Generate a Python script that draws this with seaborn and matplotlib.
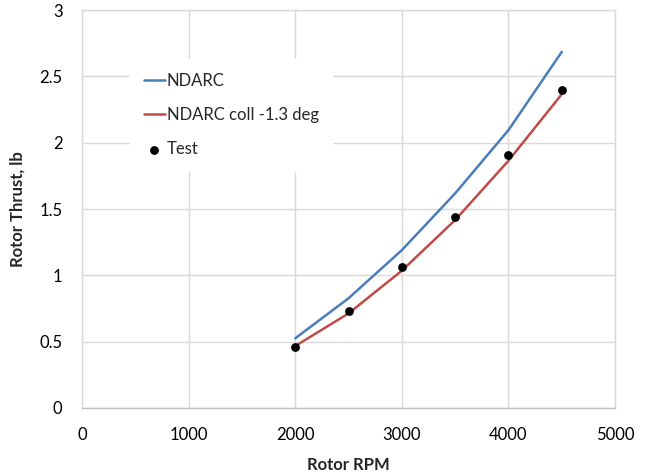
import matplotlib
matplotlib.use("Agg")
import matplotlib.pyplot as plt
import seaborn as sns
import pandas as pd

# Rotor thrust versus rotor speed: NDARC predictions and test points
rpm = [2000, 2500, 3000, 3500, 4000, 4500]
ndarc = [0.525, 0.827, 1.19, 1.618, 2.095, 2.685]
ndarc_coll = [0.467, 0.713, 1.035, 1.417, 1.864, 2.366]
test = [0.462, 0.731, 1.06, 1.44, 1.909, 2.40]

x_ticks = [0, 1000, 2000, 3000, 4000, 5000]
y_ticks = [0, 0.5, 1, 1.5, 2, 2.5, 3]
y_tick_labels = ["0", "0.5", "1", "1.5", "2", "2.5", "3"]

sns.set_theme(style="white")
plt.rcParams["font.family"] = ["Lato", "DejaVu Sans"]

df = pd.DataFrame({"rpm": rpm, "ndarc": ndarc, "coll": ndarc_coll, "test": test})

fig = plt.figure(figsize=(6.47, 4.76), dpi=100)
ax = fig.add_axes([0.1267, 0.1429, 0.824, 0.836])

sns.lineplot(data=df, x="rpm", y="ndarc", ax=ax, color="#4a7ebb", lw=1.8,
             label="NDARC")
sns.lineplot(data=df, x="rpm", y="coll", ax=ax, color="#be4b48", lw=1.8,
             label="NDARC coll -1.3 deg")
sns.scatterplot(data=df, x="rpm", y="test", ax=ax, color="black", s=40,
                edgecolor="black", linewidth=0, label="Test", zorder=5)

ax.set_xlim(0, 5000)
ax.set_ylim(0, 3)
ax.set_xticks(x_ticks)
ax.set_yticks(y_ticks)
ax.set_yticklabels(y_tick_labels)
ax.grid(True, color="#d9d9d9", lw=1)
ax.set_axisbelow(True)
for s in ax.spines.values():
    s.set_color("#d9d9d9")
    s.set_linewidth(1)
ax.spines["bottom"].set_color("#bfbfbf")
ax.tick_params(axis="both", length=0, labelsize=12, colors="black", pad=14)

ax.set_xlabel("Rotor RPM", fontsize=12, fontweight="bold", labelpad=10)
ax.set_ylabel("Rotor Thrust, lb", fontsize=12, fontweight="bold", labelpad=10)

leg = ax.legend(loc="upper left", bbox_to_anchor=(0.075, 0.897), frameon=True,
                fontsize=12, labelspacing=1.1, handlelength=1.3,
                handletextpad=0.1, borderpad=0.8, fancybox=False)
leg.get_frame().set_facecolor("white")
leg.get_frame().set_edgecolor("white")
leg.get_frame().set_alpha(1)

fig.savefig("out.png", dpi=100)
